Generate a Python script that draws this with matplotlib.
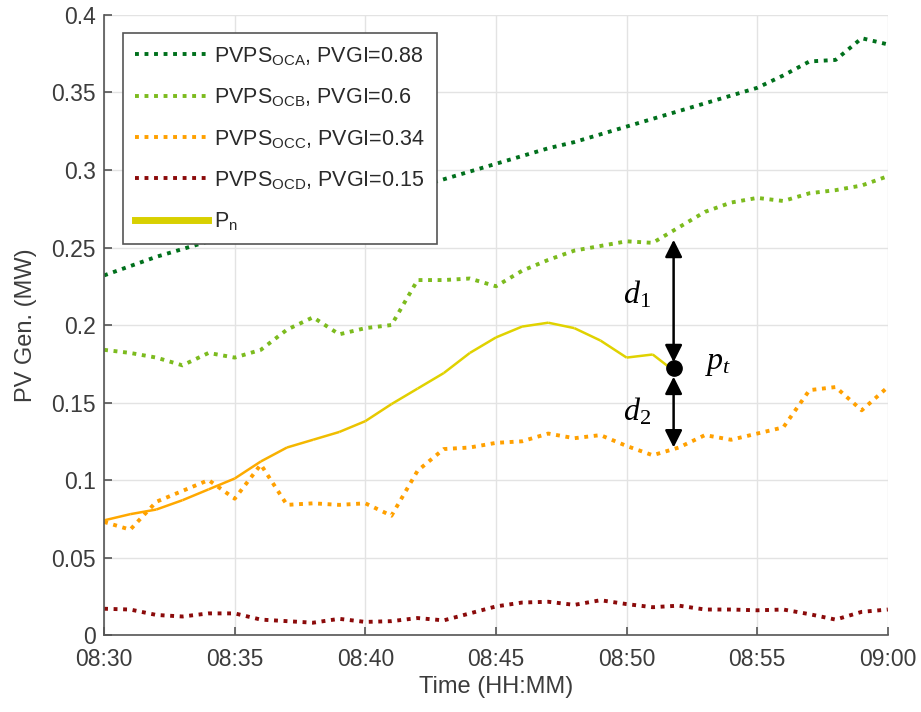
import matplotlib
matplotlib.use('Agg')
import matplotlib.pyplot as plt
import numpy as np
from matplotlib.collections import LineCollection
from matplotlib.colors import to_rgb
from matplotlib.lines import Line2D

plt.rcParams['font.family'] = ['Liberation Sans', 'DejaVu Sans']
plt.rcParams['mathtext.fontset'] = 'custom'
plt.rcParams['mathtext.rm'] = 'Liberation Serif'
plt.rcParams['mathtext.it'] = 'Liberation Serif:italic'
plt.rcParams['mathtext.sf'] = 'Liberation Sans'

# minutes after 08:30
minutes = np.arange(0, 31)
tick_pos = [0, 5, 10, 15, 20, 25, 30]
tick_labels = ['08:30', '08:35', '08:40', '08:45', '08:50', '08:55', '09:00']

pv_oca = [0.232, 0.238, 0.244, 0.249, 0.254, 0.259, 0.263, 0.267, 0.271, 0.276,
          0.280, 0.284, 0.289, 0.294, 0.299, 0.304, 0.309, 0.314, 0.318, 0.323,
          0.328, 0.333, 0.338, 0.343, 0.348, 0.353, 0.361, 0.370, 0.371, 0.385,
          0.381]
pv_ocb = [0.184, 0.182, 0.179, 0.174, 0.182, 0.179, 0.184, 0.197, 0.205, 0.194,
          0.198, 0.200, 0.229, 0.229, 0.230, 0.225, 0.235, 0.242, 0.248, 0.251,
          0.254, 0.253, 0.263, 0.273, 0.279, 0.282, 0.280, 0.285, 0.287, 0.290,
          0.296]
pv_occ = [0.073, 0.068, 0.086, 0.093, 0.100, 0.088, 0.110, 0.084, 0.085, 0.084,
          0.085, 0.077, 0.106, 0.120, 0.121, 0.124, 0.125, 0.130, 0.127, 0.129,
          0.122, 0.116, 0.121, 0.129, 0.126, 0.130, 0.134, 0.158, 0.160, 0.145,
          0.160]
pv_ocd = [0.017, 0.0165, 0.013, 0.012, 0.014, 0.014, 0.010, 0.009, 0.008, 0.0105,
          0.0085, 0.009, 0.011, 0.0095, 0.014, 0.0185, 0.021, 0.0215, 0.0195, 0.0225,
          0.020, 0.018, 0.019, 0.0165, 0.0165, 0.016, 0.0165, 0.0135, 0.010, 0.015,
          0.0165]
pn = [0.074, 0.078, 0.081, 0.087, 0.094, 0.101, 0.112, 0.121, 0.126, 0.131,
      0.138, 0.149, 0.159, 0.169, 0.182, 0.192, 0.199, 0.2015, 0.198, 0.190,
      0.179, 0.181, 0.168]

labels = [r'PVPS$_{\mathsf{OCA}}$, PVGI=0.88',
          r'PVPS$_{\mathsf{OCB}}$, PVGI=0.6',
          r'PVPS$_{\mathsf{OCC}}$, PVGI=0.34',
          r'PVPS$_{\mathsf{OCD}}$, PVGI=0.15',
          r'P$_{\mathsf{n}}$']
colors = ['#00701c', '#7cbb1e', '#ffa000', '#8b0a0a']

# annotation point p_t and distance arrows
pt_time = 21.8
pt_value = 0.172
d1_top = 0.255
d2_bottom = 0.121

fig = plt.figure(figsize=(9.21, 7.12), dpi=100)
ax = fig.add_axes([0.113, 0.108, 0.851, 0.871])

dot = (0, (1, 1.45))
handles = []
for series, c, lab in zip([pv_oca, pv_ocb, pv_occ, pv_ocd], colors, labels[:4]):
    ln, = ax.plot(minutes, series, color=c, lw=2.8, linestyle=dot,
                  dash_capstyle='butt', label=lab)
    handles.append(ln)

# Pn drawn with a colour shift from orange to yellow
t = minutes[:len(pn)]
pts = np.column_stack([t, pn])
segs = np.stack([pts[:-1], pts[1:]], axis=1)
c0 = np.array(to_rgb('#ffa800'))
c1 = np.array(to_rgb('#e0d200'))
mid = (t[:-1] + t[1:]) / 2
w = np.clip((mid - 5) / 7, 0, 1)[:, None]
seg_colors = c0 * (1 - w) + c1 * w
ax.add_collection(LineCollection(segs, colors=seg_colors, linewidths=1.8))
handles.append(Line2D([], [], color='#d8d000', lw=5, label=labels[4]))

# annotations
ax.plot(pt_time, pt_value, 'o', color='black', ms=11, zorder=5)
arrow = dict(arrowstyle='<|-|>', color='black', lw=1.8, mutation_scale=26,
             shrinkA=0, shrinkB=0)
ax.annotate('', xy=(pt_time, d1_top), xytext=(pt_time, 0.176), arrowprops=arrow)
ax.annotate('', xy=(pt_time, 0.1667), xytext=(pt_time, d2_bottom), arrowprops=arrow)
ax.text(20.4, 0.2196, r'$d_1$', fontsize=23, ha='center', va='center')
ax.text(20.4, 0.144, r'$d_2$', fontsize=23, ha='center', va='center')
ax.text(23.5, 0.1757, r'$p_t$', fontsize=23, ha='center', va='center')

ax.set_xlim(0, 30)
ax.set_ylim(0, 0.4)
ax.set_xticks(tick_pos)
ax.set_xticklabels(tick_labels)
ax.set_yticks([0, 0.05, 0.1, 0.15, 0.2, 0.25, 0.3, 0.35, 0.4])
ax.set_yticklabels(['0', '0.05', '0.1', '0.15', '0.2', '0.25', '0.3', '0.35', '0.4'])
ax.grid(True, color='#e3e3e3', lw=1)
ax.set_axisbelow(True)
for s in ['top', 'right']:
    ax.spines[s].set_visible(False)
for s in ['left', 'bottom']:
    ax.spines[s].set_color('#555555')
    ax.spines[s].set_linewidth(1.2)
ax.tick_params(direction='in', length=6, width=1.2, colors='#555555',
               labelcolor='#3c3c3c', labelsize=16.5)
ax.tick_params(axis='x', pad=9)
ax.tick_params(axis='y', pad=6)
ax.set_xlabel('Time (HH:MM)', fontsize=17, color='#3c3c3c', labelpad=4)
ax.set_ylabel('PV Gen. (MW)', fontsize=17, color='#3c3c3c', labelpad=10)

leg = ax.legend(handles=handles, loc='upper left', bbox_to_anchor=(0.024, 0.971),
                borderaxespad=0, fontsize=15.5, handlelength=3.4, handletextpad=0.3,
                labelspacing=0.9, borderpad=0.55, fancybox=False,
                framealpha=1, edgecolor='#555555')
leg.get_frame().set_linewidth(1.2)
for txt in leg.get_texts():
    txt.set_color('#2a2a2a')

fig.savefig('out.png', dpi=100)
